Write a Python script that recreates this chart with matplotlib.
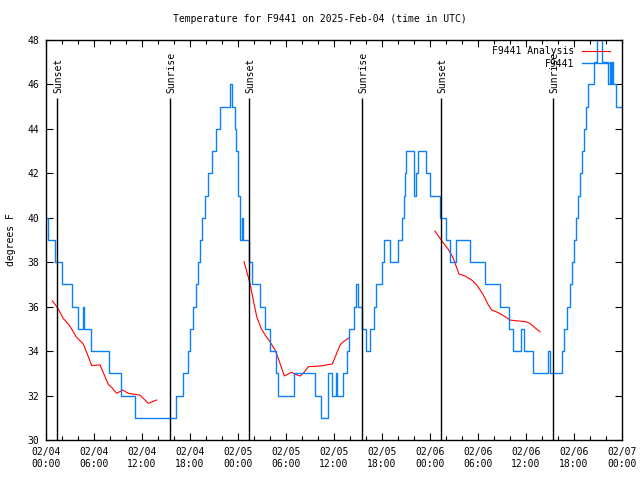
import numpy as np
import matplotlib
matplotlib.use('Agg')
import matplotlib.pyplot as plt
from matplotlib.ticker import MultipleLocator

# hours since 02/04 00:00 UTC where the observed value changes (step data)
obs_hours = [0.0, 0.31, 1.12, 1.94, 3.19, 3.94, 4.62, 4.81, 5.62, 7.88,
             9.38, 11.12, 16.31, 17.12, 17.69, 18.0, 18.38, 18.69, 18.94, 19.19,
             19.56, 19.88, 20.25, 20.81, 21.31, 21.81, 22.94, 23.31, 23.62, 23.81,
             23.94, 24.06, 24.19, 24.31, 24.46, 24.62, 25.41, 25.81, 26.69, 27.38,
             27.94, 28.69, 28.94, 30.94, 33.62, 34.38, 35.19, 35.75, 36.19, 36.38,
             37.12, 37.62, 37.88, 38.5, 38.69, 39.06, 39.5, 40.0, 40.44, 41.0,
             41.25, 41.94, 42.25, 43.0, 44.0, 44.5, 44.69, 44.88, 45.06, 45.94,
             46.06, 46.25, 46.5, 47.44, 48.0, 49.31, 50.0, 50.5, 51.31, 53.0,
             54.88, 56.75, 57.88, 58.38, 59.38, 59.75, 60.88, 62.81, 63.0, 64.5,
             64.81, 65.12, 65.44, 65.75, 66.0, 66.25, 66.44, 66.69, 67.0, 67.25,
             67.5, 67.75, 68.56, 68.88, 69.5, 70.31, 70.44, 70.62, 70.75, 70.88,
             71.25, 72.0]
obs_temps = [40, 39, 38, 37, 36, 35, 36, 35, 34, 33,
             32, 31, 32, 33, 34, 35, 36, 37, 38, 39,
             40, 41, 42, 43, 44, 45, 46, 45, 44, 43,
             42, 41, 40, 39, 40, 39, 38, 37, 36, 35,
             34, 33, 32, 33, 32, 31, 33, 32, 33, 32,
             33, 34, 35, 36, 37, 36, 35, 34, 35, 36,
             37, 38, 39, 38, 39, 40, 41, 42, 43, 42,
             41, 42, 43, 42, 41, 40, 39, 38, 39, 38,
             37, 36, 35, 34, 35, 34, 33, 34, 33, 34,
             35, 36, 37, 38, 39, 40, 41, 42, 43, 44,
             45, 46, 47, 49, 47, 46, 47, 46, 47, 46,
             45, 45]

# analysis curve, one list per night
ana_hours_1 = [0.79, 1.41, 2.16, 2.91, 3.41, 3.75, 4.66, 5.21, 5.71, 6.75,
               7.38, 7.79, 8.21, 8.84, 9.59, 10.29, 11.75, 12.79, 13.84]
ana_temps_1 = [36.26, 35.97, 35.47, 35.17, 34.87, 34.65, 34.32, 33.83, 33.35, 33.38,
               32.85, 32.5, 32.37, 32.1, 32.25, 32.1, 32.02, 31.65, 31.8]
ana_hours_2 = [24.75, 25.5, 25.91, 26.34, 26.88, 27.38, 28.0, 28.62, 29.04, 29.79,
               30.71, 31.12, 31.75, 32.16, 32.79, 34.25, 35.79, 36.75, 37.16, 37.88]
ana_temps_2 = [38.03, 37.05, 36.3, 35.55, 35.03, 34.73, 34.42, 34.05, 33.67, 32.88,
               33.05, 32.96, 32.88, 33.0, 33.3, 33.33, 33.42, 34.27, 34.42, 34.6]
ana_hours_3 = [48.62, 49.46, 50.29, 50.91, 51.21, 51.62, 52.38, 53.21, 53.84, 54.66,
               55.29, 55.71, 56.54, 57.38, 58.0, 58.62, 59.88, 60.5, 61.12, 61.75]
ana_temps_3 = [39.4, 38.97, 38.58, 38.18, 37.88, 37.47, 37.38, 37.2, 36.98, 36.53,
               36.08, 35.85, 35.73, 35.55, 35.4, 35.37, 35.33, 35.25, 35.05, 34.87]

sun_hours = [1.41, 15.54, 25.41, 39.54, 49.41, 63.41]
sun_labels = ['Sunset', 'Sunrise', 'Sunset', 'Sunrise', 'Sunset', 'Sunrise']

tick_hours = list(range(0, 73, 6))
tick_labels = ['02/04\n00:00', '02/04\n06:00', '02/04\n12:00', '02/04\n18:00',
               '02/05\n00:00', '02/05\n06:00', '02/05\n12:00', '02/05\n18:00',
               '02/06\n00:00', '02/06\n06:00', '02/06\n12:00', '02/06\n18:00',
               '02/07\n00:00']

BLUE = '#0b80ff'
RED = '#ff0000'
FS = 7

plt.rcParams['font.family'] = ['DejaVu Sans Mono']
plt.rcParams['font.size'] = FS

fig = plt.figure(figsize=(6.4, 4.8), dpi=100)
ax = fig.add_axes([46 / 640, 40 / 480, 576 / 640, 400 / 480])

ax.plot(ana_hours_1, ana_temps_1, color=RED, lw=0.8, label='F9441 Analysis')
ax.plot(ana_hours_2, ana_temps_2, color=RED, lw=0.8)
ax.plot(ana_hours_3, ana_temps_3, color=RED, lw=0.8)
ax.step(obs_hours, obs_temps, where='post', color=BLUE, lw=1.0, label='F9441')

# sunrise / sunset markers
ax.vlines(sun_hours, 30, 45.37, color='black', lw=1.0)
for h, lab in zip(sun_hours, sun_labels):
    ax.text(h + 0.1, 45.62, lab, rotation=90, ha='center', va='bottom', fontsize=FS)

ax.set_xlim(0, 72)
ax.set_ylim(30, 48)
ax.set_xticks(tick_hours)
ax.set_xticklabels(tick_labels)
ax.xaxis.set_minor_locator(MultipleLocator(2))
ax.set_yticks(np.arange(30, 49, 2))

ax.tick_params(which='both', direction='in', top=True, right=True, width=0.8)
ax.tick_params(which='major', length=5)
ax.tick_params(which='minor', length=3)
ax.tick_params(axis='x', pad=5)
ax.tick_params(axis='y', pad=5)
for sp in ax.spines.values():
    sp.set_linewidth(1.0)

ax.set_ylabel('degrees F')
ax.yaxis.set_label_coords(-30 / 576, 0.5)

leg = ax.legend(loc='upper right', bbox_to_anchor=(609 / 622 + 0.003, 0.99),
                frameon=False, markerfirst=False, handlelength=2.9,
                handletextpad=0.8, borderaxespad=0, borderpad=0.2,
                labelspacing=0.3, fontsize=FS)

fig.text(0.5, 1 - 19 / 480, 'Temperature for F9441 on 2025-Feb-04 (time in UTC)',
         ha='center', va='center', fontsize=FS)

fig.savefig('out.png', dpi=100)
